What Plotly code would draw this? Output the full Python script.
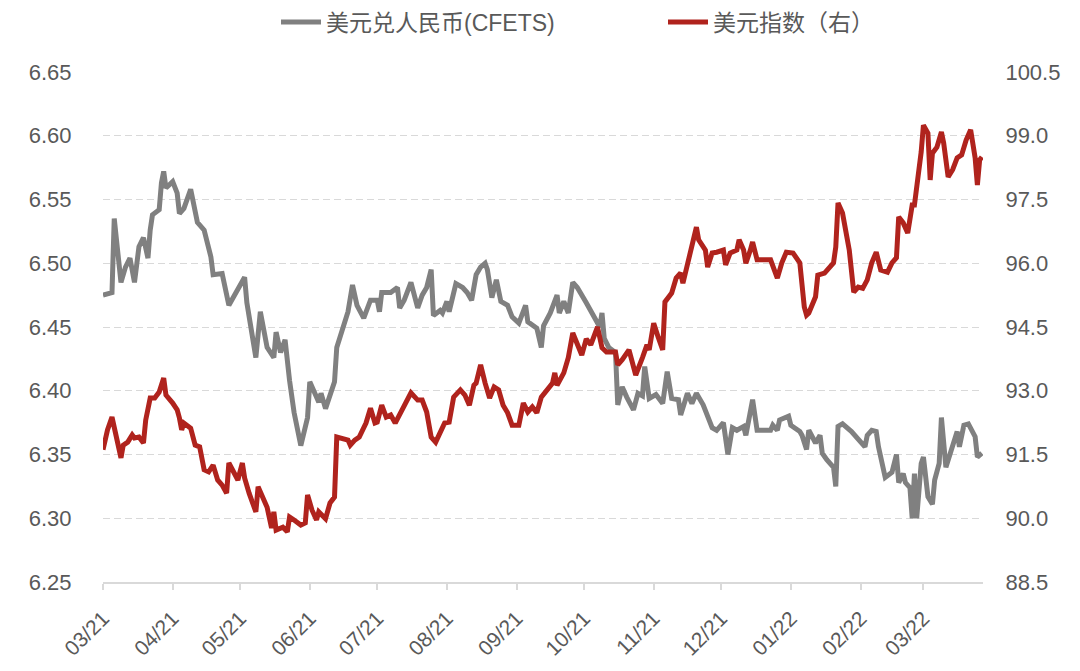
import plotly.graph_objects as go

# ---------------- data ----------------
cny_dates = (
    ["2021-03-01", "2021-03-05", "2021-03-06", "2021-03-09", "2021-03-11", "2021-03-13", "2021-03-15", "2021-03-17",
     "2021-03-19", "2021-03-21", "2021-03-22", "2021-03-23", "2021-03-26", "2021-03-27", "2021-03-28", "2021-03-29"]
    + ["2021-04-01", "2021-04-03", "2021-04-04", "2021-04-06", "2021-04-09", "2021-04-12", "2021-04-15", "2021-04-18",
       "2021-04-19", "2021-04-23", "2021-04-26"]
    + ["2021-05-03", "2021-05-04", "2021-05-08", "2021-05-10", "2021-05-13", "2021-05-16", "2021-05-17", "2021-05-19",
       "2021-05-21", "2021-05-23", "2021-05-25", "2021-05-28", "2021-05-31"]
    + ["2021-06-01", "2021-06-05", "2021-06-06", "2021-06-08", "2021-06-12", "2021-06-13", "2021-06-18", "2021-06-20",
       "2021-06-22", "2021-06-25", "2021-06-28"]
    + ["2021-07-01", "2021-07-02", "2021-07-03", "2021-07-07", "2021-07-10", "2021-07-11", "2021-07-13", "2021-07-16",
       "2021-07-19", "2021-07-21", "2021-07-23", "2021-07-25", "2021-07-26", "2021-07-29", "2021-07-30"]
    + ["2021-08-01", "2021-08-02", "2021-08-05", "2021-08-08", "2021-08-10", "2021-08-12", "2021-08-14", "2021-08-16",
       "2021-08-18", "2021-08-19", "2021-08-21", "2021-08-23", "2021-08-25", "2021-08-28", "2021-08-30"]
    + ["2021-09-02", "2021-09-05", "2021-09-06", "2021-09-10", "2021-09-12", "2021-09-13", "2021-09-16", "2021-09-19",
       "2021-09-20", "2021-09-22", "2021-09-24", "2021-09-26", "2021-09-28"]
    + ["2021-10-02", "2021-10-07", "2021-10-08", "2021-10-09", "2021-10-10", "2021-10-12", "2021-10-15", "2021-10-16",
       "2021-10-18", "2021-10-20", "2021-10-23", "2021-10-25", "2021-10-27", "2021-10-28", "2021-10-29", "2021-10-30"]
    + ["2021-11-02", "2021-11-05", "2021-11-07", "2021-11-09", "2021-11-12", "2021-11-13", "2021-11-16", "2021-11-18",
       "2021-11-20", "2021-11-23", "2021-11-27", "2021-11-29"]
    + ["2021-12-02", "2021-12-04", "2021-12-06", "2021-12-08", "2021-12-11", "2021-12-12", "2021-12-15", "2021-12-17",
       "2021-12-20", "2021-12-23", "2021-12-24", "2021-12-26", "2021-12-27", "2021-12-31"]
    + ["2022-01-01", "2022-01-05", "2022-01-06", "2022-01-08", "2022-01-09", "2022-01-12", "2022-01-14", "2022-01-15",
       "2022-01-17", "2022-01-20", "2022-01-21", "2022-01-22", "2022-01-24", "2022-01-28"]
    + ["2022-02-03", "2022-02-04", "2022-02-06", "2022-02-08", "2022-02-09", "2022-02-12", "2022-02-15", "2022-02-17",
       "2022-02-18", "2022-02-20", "2022-02-21", "2022-02-23", "2022-02-24", "2022-02-25", "2022-02-26", "2022-02-28"]
    + ["2022-03-01", "2022-03-03", "2022-03-05", "2022-03-06", "2022-03-08", "2022-03-09", "2022-03-11", "2022-03-13",
       "2022-03-16", "2022-03-17", "2022-03-19", "2022-03-21", "2022-03-24", "2022-03-25", "2022-03-27"]
)
cny_values = (
    [6.475, 6.477, 6.535, 6.485, 6.497, 6.504, 6.485, 6.513, 6.520, 6.504, 6.526, 6.538, 6.542, 6.563, 6.572, 6.559]
    + [6.564, 6.555, 6.539, 6.543, 6.558, 6.532, 6.526, 6.505, 6.491, 6.492, 6.467]
    + [6.489, 6.469, 6.426, 6.462, 6.434, 6.426, 6.446, 6.430, 6.440, 6.408, 6.383, 6.357, 6.379]
    + [6.407, 6.391, 6.398, 6.386, 6.407, 6.434, 6.462, 6.483, 6.467, 6.457, 6.471]
    + [6.471, 6.462, 6.477, 6.477, 6.481, 6.465, 6.471, 6.485, 6.465, 6.475, 6.481, 6.495, 6.459, 6.463, 6.461]
    + [6.470, 6.462, 6.484, 6.481, 6.477, 6.471, 6.491, 6.497, 6.500, 6.495, 6.473, 6.487, 6.470, 6.467, 6.458]
    + [6.453, 6.467, 6.454, 6.449, 6.434, 6.451, 6.461, 6.475, 6.461, 6.470, 6.461, 6.485, 6.481]
    + [6.469, 6.453, 6.450, 6.461, 6.441, 6.434, 6.430, 6.389, 6.403, 6.395, 6.385, 6.398, 6.396, 6.419, 6.406, 6.394]
    + [6.397, 6.390, 6.415, 6.394, 6.393, 6.381, 6.398, 6.390, 6.398, 6.389, 6.371, 6.369]
    + [6.375, 6.350, 6.371, 6.369, 6.372, 6.365, 6.393, 6.369, 6.369, 6.369, 6.373, 6.369, 6.377, 6.380]
    + [6.373, 6.368, 6.365, 6.354, 6.369, 6.359, 6.365, 6.351, 6.346, 6.340, 6.325, 6.372, 6.374, 6.368]
    + [6.356, 6.365, 6.369, 6.368, 6.356, 6.332, 6.336, 6.350, 6.328, 6.335, 6.328, 6.324, 6.300, 6.335, 6.300, 6.343]
    + [6.348, 6.317, 6.311, 6.330, 6.343, 6.379, 6.340, 6.351, 6.368, 6.356, 6.373, 6.374, 6.364, 6.348, 6.351]
)

dxy_dates = (
    ["2021-03-01", "2021-03-03", "2021-03-05", "2021-03-07", "2021-03-09", "2021-03-10", "2021-03-12", "2021-03-14",
     "2021-03-15", "2021-03-17", "2021-03-19", "2021-03-20", "2021-03-22", "2021-03-24", "2021-03-26", "2021-03-28",
     "2021-03-29"]
    + ["2021-04-01", "2021-04-03", "2021-04-04", "2021-04-05", "2021-04-06", "2021-04-09", "2021-04-11", "2021-04-13",
       "2021-04-15", "2021-04-17", "2021-04-19", "2021-04-21", "2021-04-23", "2021-04-25", "2021-04-26", "2021-04-29",
       "2021-04-30"]
    + ["2021-05-02", "2021-05-03", "2021-05-05", "2021-05-08", "2021-05-09", "2021-05-11", "2021-05-13", "2021-05-15",
       "2021-05-16", "2021-05-17", "2021-05-20", "2021-05-22", "2021-05-23", "2021-05-25", "2021-05-28", "2021-05-30",
       "2021-05-31"]
    + ["2021-06-02", "2021-06-04", "2021-06-05", "2021-06-08", "2021-06-10", "2021-06-12", "2021-06-13", "2021-06-18",
       "2021-06-19", "2021-06-21", "2021-06-23", "2021-06-26", "2021-06-28", "2021-06-30"]
    + ["2021-07-01", "2021-07-03", "2021-07-05", "2021-07-07", "2021-07-09", "2021-07-12", "2021-07-14", "2021-07-16",
       "2021-07-19", "2021-07-21", "2021-07-23", "2021-07-25", "2021-07-27", "2021-07-29", "2021-07-31"]
    + ["2021-08-02", "2021-08-04", "2021-08-07", "2021-08-09", "2021-08-11", "2021-08-13", "2021-08-14", "2021-08-16",
       "2021-08-18", "2021-08-20", "2021-08-22", "2021-08-24", "2021-08-26", "2021-08-28", "2021-08-30"]
    + ["2021-09-02", "2021-09-04", "2021-09-06", "2021-09-08", "2021-09-10", "2021-09-12", "2021-09-14", "2021-09-17",
       "2021-09-18", "2021-09-19", "2021-09-22", "2021-09-24", "2021-09-26", "2021-09-28", "2021-09-30"]
    + ["2021-10-02", "2021-10-04", "2021-10-07", "2021-10-09", "2021-10-11", "2021-10-15", "2021-10-16", "2021-10-18",
       "2021-10-21", "2021-10-24", "2021-10-27", "2021-10-29", "2021-10-30"]
    + ["2021-11-01", "2021-11-03", "2021-11-05", "2021-11-06", "2021-11-09", "2021-11-11", "2021-11-13", "2021-11-14",
       "2021-11-16", "2021-11-18", "2021-11-20", "2021-11-21", "2021-11-24", "2021-11-25", "2021-11-27", "2021-11-29"]
    + ["2021-12-02", "2021-12-03", "2021-12-05", "2021-12-08", "2021-12-09", "2021-12-11", "2021-12-12", "2021-12-14",
       "2021-12-15", "2021-12-17", "2021-12-19", "2021-12-23", "2021-12-26", "2021-12-28", "2021-12-30"]
    + ["2022-01-02", "2022-01-05", "2022-01-06", "2022-01-07", "2022-01-08", "2022-01-09", "2022-01-12", "2022-01-13",
       "2022-01-16", "2022-01-18", "2022-01-20", "2022-01-21", "2022-01-22", "2022-01-24", "2022-01-26", "2022-01-27",
       "2022-01-29", "2022-01-31"]
    + ["2022-02-02", "2022-02-04", "2022-02-06", "2022-02-08", "2022-02-10", "2022-02-13", "2022-02-15", "2022-02-17",
       "2022-02-18", "2022-02-20", "2022-02-22", "2022-02-24", "2022-02-25", "2022-02-26", "2022-02-28"]
    + ["2022-03-01", "2022-03-03", "2022-03-04", "2022-03-05", "2022-03-07", "2022-03-09", "2022-03-10", "2022-03-12",
       "2022-03-14", "2022-03-16", "2022-03-18", "2022-03-19", "2022-03-20", "2022-03-22", "2022-03-24", "2022-03-25",
       "2022-03-26", "2022-03-27"]
)
dxy_values = (
    [91.61, 92.08, 92.38, 91.84, 91.42, 91.72, 91.79, 91.96, 91.89, 91.91, 91.77, 92.31, 92.83, 92.83, 92.97, 93.30,
     92.90]
    + [92.71, 92.55, 92.36, 92.08, 92.24, 92.12, 91.72, 91.68, 91.14, 91.09, 91.25, 90.90, 90.78, 90.59, 91.30, 90.97,
       90.90]
    + [91.30, 90.95, 90.59, 90.15, 90.74, 90.50, 90.26, 89.77, 90.15, 89.72, 89.79, 89.68, 90.03, 89.96, 89.84, 89.89,
       90.55]
    + [90.19, 89.96, 90.15, 89.99, 90.36, 90.50, 91.91, 91.84, 91.72, 91.84, 91.91, 92.24, 92.59, 92.24]
    + [92.26, 92.66, 92.38, 92.43, 92.24, 92.55, 92.71, 92.95, 92.78, 92.78, 92.50, 91.91, 91.79, 92.00, 92.24]
    + [92.26, 92.85, 93.02, 92.90, 92.66, 93.13, 93.18, 93.61, 93.18, 92.83, 93.09, 93.02, 92.66, 92.48, 92.19]
    + [92.19, 92.71, 92.50, 92.62, 92.48, 92.85, 92.97, 93.18, 93.42, 93.13, 93.42, 93.78, 94.36, 94.08, 93.84]
    + [94.22, 94.08, 94.50, 94.01, 93.91, 93.91, 93.61, 93.73, 93.96, 93.37, 93.78, 94.08, 93.96]
    + [94.59, 94.26, 93.96, 95.09, 95.30, 95.65, 95.77, 95.53, 95.96, 96.50, 96.85, 96.55, 96.31, 95.91, 96.24, 96.26]
    + [96.31, 95.96, 96.24, 96.31, 96.55, 96.31, 96.00, 96.31, 96.50, 96.08, 96.08, 96.08, 95.65, 96.01, 96.26]
    + [96.24, 96.01, 95.30, 94.97, 94.78, 94.83, 95.21, 95.72, 95.77, 95.89, 96.01, 96.38, 97.42, 97.18, 96.48, 96.31,
       95.32, 95.44]
    + [95.41, 95.61, 96.01, 96.26, 95.84, 95.79, 96.01, 96.13, 97.09, 96.95, 96.71, 97.37, 97.37, 97.77, 98.62]
    + [99.25, 99.06, 97.96, 98.59, 98.73, 99.09, 98.83, 98.03, 98.20, 98.48, 98.55, 98.78, 98.90, 99.14, 98.48, 97.84,
       98.43, 98.50]
)

month_ticks = ["2021-03-01", "2021-04-01", "2021-05-01", "2021-06-01", "2021-07-01", "2021-08-01", "2021-09-01",
               "2021-10-01", "2021-11-01", "2021-12-01", "2022-01-01", "2022-02-01", "2022-03-01"]
month_labels = ["03/21", "04/21", "05/21", "06/21", "07/21", "08/21", "09/21",
                "10/21", "11/21", "12/21", "01/22", "02/22", "03/22"]

left_ticks = [6.25, 6.30, 6.35, 6.40, 6.45, 6.50, 6.55, 6.60, 6.65]
right_ticks = [88.5, 90.0, 91.5, 93.0, 94.5, 96.0, 97.5, 99.0, 100.5]

name_cny = "美元兑人民币(CFETS)"
name_dxy = "美元指数（右）"

# ---------------- figure ----------------
FONT = "Liberation Sans, Noto Sans CJK SC, Arial, sans-serif"
TXT = "#595959"
GRID = "#d9d9d9"

fig = go.Figure()
fig.add_trace(go.Scatter(x=cny_dates, y=cny_values, name=name_cny, mode="lines",
                         line=dict(color="#808080", width=5), yaxis="y"))
fig.add_trace(go.Scatter(x=dxy_dates, y=dxy_values, name=name_dxy, mode="lines",
                         line=dict(color="#B0231D", width=5), yaxis="y2"))

fig.update_layout(
    width=1080, height=671,
    margin=dict(l=103, r=97, t=72, b=89, autoexpand=False),
    paper_bgcolor="white", plot_bgcolor="white",
    font=dict(family=FONT, color=TXT, size=20),
    showlegend=True,
    legend=dict(orientation="h", xref="container", yref="container",
                x=276 / 1080, xanchor="left", y=1 - 22 / 671, yanchor="middle",
                font=dict(size=23, color=TXT, family=FONT), itemwidth=40,
                entrywidth=332, entrywidthmode="pixels",
                bgcolor="rgba(0,0,0,0)"),
    xaxis=dict(type="date", range=["2021-03-01", "2022-03-27 12:00"],
               tickvals=month_ticks, ticktext=month_labels, tickangle=-45,
               tickfont=dict(size=21, color=TXT, family=FONT),
               showline=True, linecolor=GRID, linewidth=1.5,
               ticks="outside", ticklen=6, tickcolor=GRID, tickwidth=1.5,
               ticklabelstandoff=8,
               showgrid=False, zeroline=False),
    yaxis=dict(range=[6.25, 6.65], tickvals=left_ticks, tickformat=".2f",
               tickfont=dict(size=22, color=TXT, family=FONT),
               showgrid=True, gridcolor=GRID, griddash="7px,4px", gridwidth=1.2,
               zeroline=False, showline=False,
               ticks="outside", ticklen=26, tickcolor="rgba(0,0,0,0)"),
    yaxis2=dict(range=[88.5, 100.5], tickvals=right_ticks, tickformat=".1f",
                overlaying="y", side="right",
                tickfont=dict(size=22, color=TXT, family=FONT),
                showgrid=False, zeroline=False, showline=False,
                ticks="outside", ticklen=17, tickcolor="rgba(0,0,0,0)"),
)

fig.write_html("out.html")
